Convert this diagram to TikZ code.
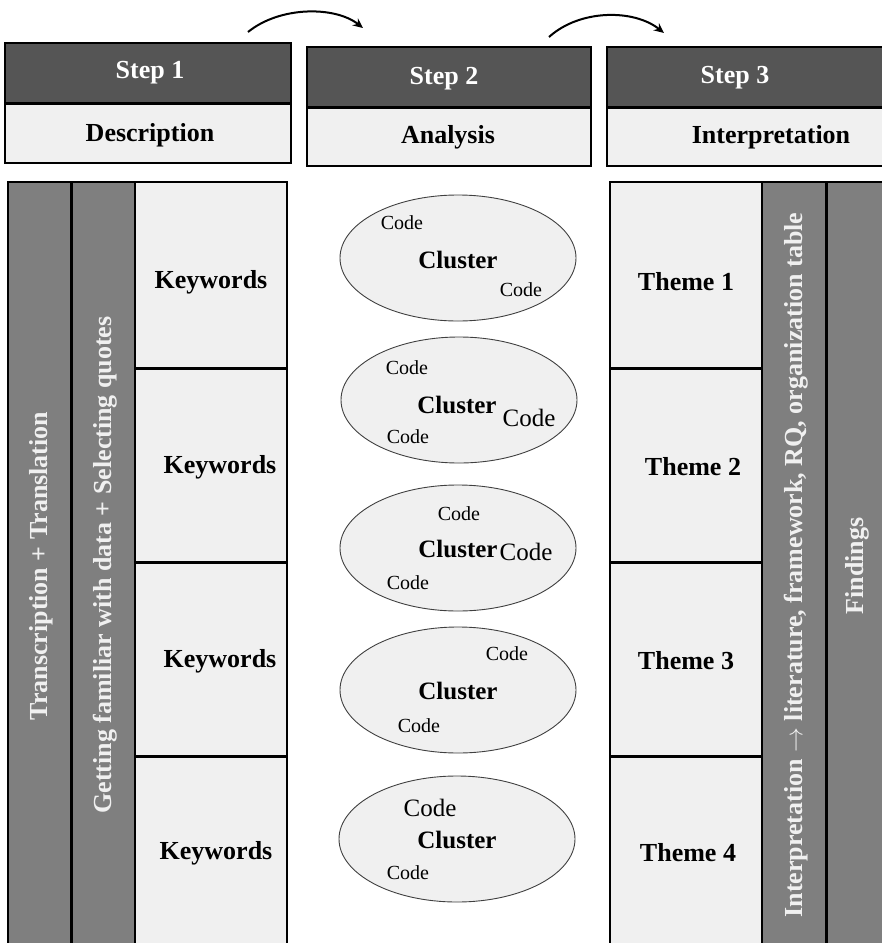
\documentclass[tikz,border=0pt]{standalone}
\usepackage{fontspec}
\setmainfont{Liberation Serif}
\usetikzlibrary{shapes.geometric,arrows.meta,calc}
\definecolor{hdark}{HTML}{555555}
\definecolor{cdark}{HTML}{7F7F7F}
\definecolor{lite}{HTML}{F0F0F0}
\begin{document}
\begin{tikzpicture}[x=1pt,y=-1pt,
  box/.style={draw=black,line width=1.5pt,inner sep=0pt,outer sep=0pt,rectangle},
  hd/.style={box,fill=hdark},
  hl/.style={box,fill=lite},
  col/.style={box,fill=cdark},
  cell/.style={box,fill=lite},
  sepline/.style={line width=3pt,black},
  big/.style={font=\fontsize{26}{30}\selectfont\bfseries,inner sep=0pt},
  wtxt/.style={big,text=white},
  vtxt/.style={big,text=lite,rotate=90},
  ell/.style={ellipse,draw=black!75,line width=0.9pt,fill=lite,minimum width=236pt,minimum height=126pt,inner sep=0pt},
  code/.style={font=\fontsize{20}{24}\selectfont,inner sep=0pt},
  codeL/.style={font=\fontsize{25}{30}\selectfont,inner sep=0pt},
  clus/.style={font=\fontsize{25}{30}\selectfont\bfseries,inner sep=0pt},
  flow/.style={line width=2pt,-{Stealth[length=10pt,width=9pt]}}
]
\path[use as bounding box, clip] (0,0) rectangle (882,943);

% ---- headers ----
\node[hd, minimum width=286pt, minimum height=60pt] (h1d) at (148,73) {};
\node[hl, minimum width=286pt, minimum height=60pt] (h1l) at (148,133) {};
\node[hd, minimum width=284pt, minimum height=60pt] (h2d) at (449,77) {};
\node[hl, minimum width=284pt, minimum height=59pt] (h2l) at (449,136.5) {};
\node[hd, minimum width=283pt, minimum height=60pt] (h3d) at (748.5,77) {};
\node[hl, minimum width=283pt, minimum height=59pt] (h3l) at (748.5,136.5) {};
\draw[sepline] (h1d.south west) -- (h1d.south east);
\draw[sepline] (h2d.south west) -- (h2d.south east);
\draw[sepline] (h3d.south west) -- (h3d.south east);

\node[wtxt] (s1) at (150,73) {Step 1};
\node[big] (d1) at (150,135) {Description};
\node[wtxt] (s2) at (444,79) {Step 2};
\node[big] (d2) at (448,137) {Analysis};
\node[wtxt] (s3) at (735,78) {Step 3};
\node[big] (d3) at (771,137) {Interpretation};

% ---- arrows ----
\coordinate (a1s) at (248,32);
\coordinate (a1e) at (363,28);
\coordinate (a2s) at (549,37);
\coordinate (a2e) at (664,33);
\draw[flow] (a1s) .. controls (280,6) and (335,6) .. (a1e);
\draw[flow] (a2s) .. controls (580,9) and (634,9) .. (a2e);

% ---- left columns ----
\node[col, minimum width=63pt, minimum height=768pt] (c1) at (39.5,566) {};
\node[col, minimum width=64pt, minimum height=768pt] (c2) at (103,566) {};
\node[cell, minimum width=152pt, minimum height=186pt] (k1) at (211,275) {};
\node[cell, minimum width=152pt, minimum height=194pt] (k2) at (211,465) {};
\node[cell, minimum width=152pt, minimum height=194pt] (k3) at (211,659) {};
\node[cell, minimum width=152pt, minimum height=194pt] (k4) at (211,853) {};
\draw[sepline] (c1.north east) -- (c1.south east);
\draw[sepline] (k1.south west) -- (k1.south east);
\draw[sepline] (k2.south west) -- (k2.south east);
\draw[sepline] (k3.south west) -- (k3.south east);

\node[vtxt] (v1) at (41,566) {Transcription + Translation};
\node[vtxt] (v2) at (105,565) {Getting familiar with data + Selecting quotes};
\node[big] (kl1) at (211,282) {Keywords};
\node[big] (kl2) at (220,467) {Keywords};
\node[big] (kl3) at (220,661) {Keywords};
\node[big] (kl4) at (216,853) {Keywords};

% ---- right columns ----
\node[cell, minimum width=152pt, minimum height=186pt] (t1) at (686,275) {};
\node[cell, minimum width=152pt, minimum height=194pt] (t2) at (686,465) {};
\node[cell, minimum width=152pt, minimum height=194pt] (t3) at (686,659) {};
\node[cell, minimum width=152pt, minimum height=194pt] (t4) at (686,853) {};
\node[col, minimum width=64pt, minimum height=768pt] (c3) at (794,566) {};
\node[col, minimum width=74pt, minimum height=768pt] (c4) at (863,566) {};
\draw[sepline] (c4.north west) -- (c4.south west);
\draw[sepline] (t1.south west) -- (t1.south east);
\draw[sepline] (t2.south west) -- (t2.south east);
\draw[sepline] (t3.south west) -- (t3.south east);

\node[big] (tl1) at (686,282) {Theme 1};
\node[big] (tl2) at (693,467) {Theme 2};
\node[big] (tl3) at (686,661) {Theme 3};
\node[big] (tl4) at (688,853) {Theme 4};
\node[vtxt] (v3) at (796,565) {Interpretation $\rightarrow$ literature, framework, RQ, organization table};
\node[vtxt] (v4) at (857,566) {Findings};

% ---- clusters ----
\node[ell] (e1) at (458,258) {};
\node[code] (e1a) at (402,223) {Code};
\node[clus] (e1c) at (458,260) {Cluster};
\node[code] (e1b) at (521,290) {Code};

\node[ell] (e2) at (459,400) {};
\node[code] (e2a) at (407,368) {Code};
\node[clus] (e2c) at (457,405) {Cluster};
\node[codeL] (e2b) at (529,418) {Code};
\node[code] (e2d) at (408,437) {Code};

\node[ell] (e3) at (458,548) {};
\node[code] (e3a) at (459,514) {Code};
\node[clus] (e3c) at (458,549) {Cluster};
\node[codeL] (e3b) at (526,552) {Code};
\node[code] (e3d) at (408,583) {Code};

\node[ell] (e4) at (458,690) {};
\node[code] (e4a) at (507,654) {Code};
\node[clus] (e4c) at (458,691) {Cluster};
\node[code] (e4b) at (419,726) {Code};

\node[ell] (e5) at (457,839) {};
\node[codeL] (e5a) at (430,808) {Code};
\node[clus] (e5c) at (457,840) {Cluster};
\node[code] (e5b) at (408,873) {Code};
\end{tikzpicture}
\end{document}
